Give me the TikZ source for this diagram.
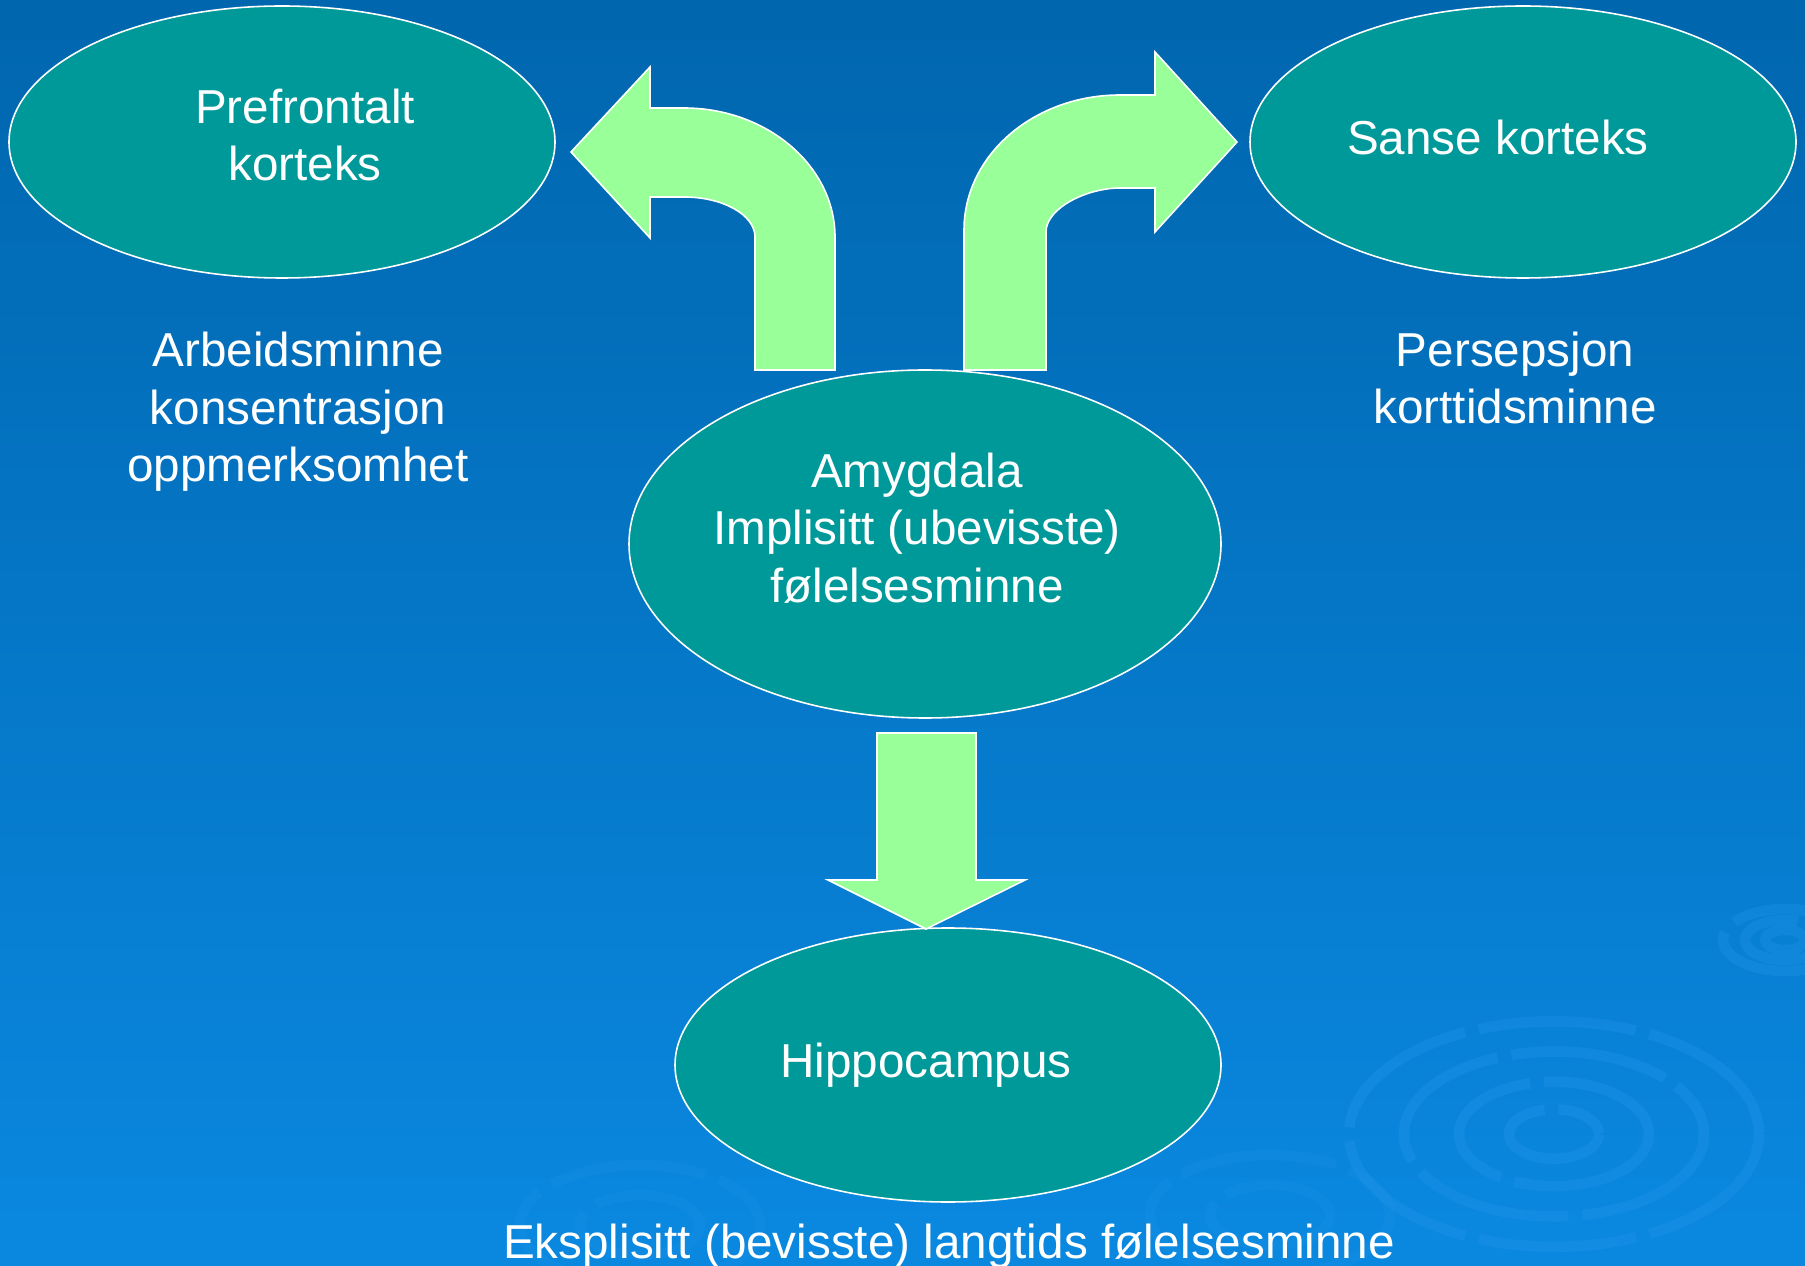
\documentclass[tikz,border=0pt]{standalone}
\usepackage{fontspec}
\setmainfont{Liberation Sans}
\usetikzlibrary{shapes.geometric}
\definecolor{bgtop}{HTML}{0066AE}
\definecolor{bgbot}{HTML}{0A88E0}
\definecolor{teal}{HTML}{009999}
\definecolor{arrowgreen}{HTML}{99FF99}
\definecolor{ripple}{HTML}{2A9CF0}
\tikzset{
  oval/.style={ellipse, draw=white, line width=0.9pt, fill=teal, inner sep=0pt},
  txt/.style={text=white, align=center, font=\fontsize{27.1pt}{32.8pt}\selectfont, inner sep=0pt},
  blockarrow/.style={fill=arrowgreen, draw=white, line width=0.9pt, line join=miter},
  ring/.style={draw=ripple, opacity=0.25, line width=6pt, dash pattern=on 90pt off 8pt}
}
\begin{document}
\begin{tikzpicture}[x=0.02cm, y=-0.02cm]
\useasboundingbox (0,0) rectangle (1805,1266);
\shade[top color=bgtop, bottom color=bgbot] (0,0) rectangle (1805,1266);
% decorative ripples
\begin{scope}
\clip (0,0) rectangle (1805,1266);
\foreach \r in {45,95,150,205}
  \draw[ring] (1554,1134) ellipse ({\r} and {0.55*\r});
\foreach \r in {20,40,62}
  \draw[ring] (1785,940) ellipse ({\r} and {0.5*\r});
\foreach \r in {60,120}
  \draw[ring, opacity=0.15] (1270,1215) ellipse ({\r} and {0.5*\r});
\foreach \r in {60,120}
  \draw[ring, opacity=0.15] (640,1225) ellipse ({\r} and {0.5*\r});
\end{scope}
% ellipses
\node[oval, minimum width=546*0.02cm, minimum height=272*0.02cm] (pfc) at (282,142) {};
\node[oval, minimum width=546*0.02cm, minimum height=272*0.02cm] (sk) at (1523,142) {};
\node[oval, minimum width=592*0.02cm, minimum height=348*0.02cm] (amy) at (925,544) {};
\node[oval, minimum width=546*0.02cm, minimum height=274*0.02cm] (hip) at (948,1065) {};
% texts
\node[txt] (pfct) at (305,135) {Prefrontalt\\korteks};
\node[txt] (skt) at (1498,137) {Sanse korteks};
\node[txt] (amyt) at (917,528) {Amygdala\\Implisitt (ubevisste)\\følelsesminne};
\node[txt] (hipt) at (926,1065) {Hippocampus};
\node[txt] (arb) at (298,412) {Arbeidsminne\\konsentrasjon\\oppmerksomhet};
\node[txt] (per) at (1515,378) {Persepsjon\\korttidsminne};
\node[txt] (eks) at (949,1246) {Eksplisitt (bevisste) langtids følelsesminne};
% left bent arrow
\draw[blockarrow] (571,152) -- (650,67) -- (650,108) -- (684,108)
  .. controls (767,108) and (835,166) .. (835,237) -- (835,370) -- (755,370) -- (755,237)
  .. controls (755,215) and (723,197) .. (684,197) -- (650,197) -- (650,238) -- cycle;
% right bent arrow
\draw[blockarrow] (1237,142) -- (1155,52) -- (1155,95) -- (1120,95)
  .. controls (1034,95) and (964,155) .. (964,230) -- (964,370) -- (1046,370) -- (1046,232)
  .. controls (1046,208) and (1087,188) .. (1120,188) -- (1155,188) -- (1155,232) -- cycle;
% down arrow
\draw[blockarrow] (877,733) -- (976,733) -- (976,880) -- (1025,880) -- (926,929) -- (828,880) -- (877,880) -- cycle;
\end{tikzpicture}
\end{document}
